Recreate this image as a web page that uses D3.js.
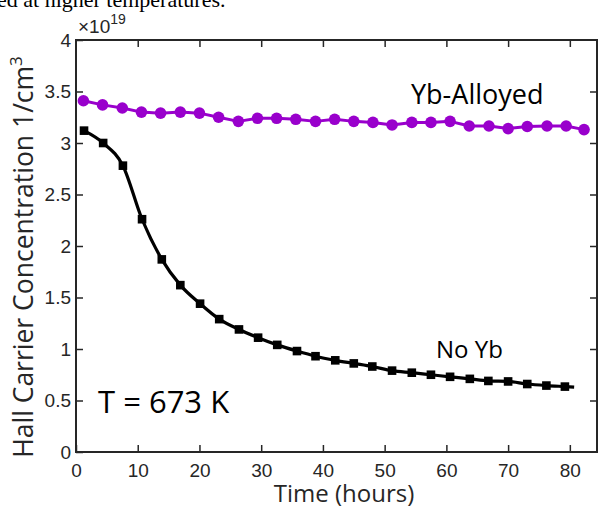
<!DOCTYPE html>
<html>
<head>
<meta charset="utf-8">
<script src="https://cdn.jsdelivr.net/npm/d3@7"></script>
<style>
  body { margin: 0; background: #fff; }
  svg { display: block; }
</style>
</head>
<body>
<div id="chart"></div>
<script>
// Hall carrier concentration vs time at T = 673 K (values in units of 1e19 cm^-3)
var noYbTime = [1.3, 4.4, 7.6, 10.7, 13.9, 16.9, 20.1, 23.2, 26.4, 29.5, 32.6, 35.8, 38.8,
  42.0, 45.0, 48.0, 51.2, 54.4, 57.5, 60.6, 63.8, 66.8, 70.0, 73.1, 76.2, 79.2];
var noYbConc = [3.12, 3.00, 2.78, 2.26, 1.87, 1.62, 1.44, 1.29, 1.19, 1.11, 1.04, 0.98, 0.93,
  0.89, 0.86, 0.83, 0.79, 0.77, 0.75, 0.73, 0.71, 0.69, 0.685, 0.66, 0.645, 0.635];
// end of the fitted curve, a little past the last sample
var noYbFitEnd = [80.7, 0.63];

var ybTime = [1.2, 4.3, 7.5, 10.6, 13.7, 16.9, 20.0, 23.1, 26.3, 29.4, 32.5, 35.6, 38.8, 41.9,
  45.0, 48.1, 51.2, 54.4, 57.5, 60.6, 63.7, 66.9, 70.0, 73.1, 76.3, 79.4, 82.3];
var ybConc = [3.41, 3.37, 3.34, 3.30, 3.29, 3.30, 3.29, 3.25, 3.21, 3.24, 3.24, 3.23, 3.21, 3.23,
  3.21, 3.20, 3.175, 3.20, 3.20, 3.21, 3.165, 3.165, 3.14, 3.16, 3.165, 3.165, 3.13];

var xTicks = [0, 10, 20, 30, 40, 50, 60, 70, 80];
var yTicks = [0, 0.5, 1, 1.5, 2, 2.5, 3, 3.5, 4];

var W = 600, H = 506;
var margins = { top: 40, right: 3, bottom: 54, left: 76 };
var width = W - margins.left - margins.right;
var height = H - margins.top - margins.bottom;
var axisColor = '#262626';
var purple = '#9900cc';

var svg = d3.select('#chart').append('svg')
  .attr('width', W)
  .attr('height', H);

// bit of the caption above the figure, cut off by the crop
svg.append('text')
  .attr('x', -3)
  .attr('y', 7)
  .attr('font-family', 'Liberation Serif, serif')
  .attr('font-size', 22)
  .attr('fill', '#000')
  .text('ed at higher temperatures.');

var g = svg.append('g')
  .attr('transform', 'translate(' + margins.left + ',' + margins.top + ')');

var x = d3.scaleLinear().domain([0, 84.4]).range([0, width]);
var y = d3.scaleLinear().domain([0, 4]).range([height, 0]);

function styleAxis(sel) {
  sel.select('.domain').remove();
  sel.selectAll('line').attr('stroke', axisColor).attr('stroke-width', 1.5);
  sel.selectAll('text')
    .attr('fill', axisColor)
    .attr('font-family', 'Liberation Sans, Arial, sans-serif')
    .attr('font-size', 19);
}

g.append('g')
  .attr('transform', 'translate(0,' + height + ')')
  .call(d3.axisBottom(x).tickValues(xTicks).tickSize(-7).tickPadding(12).tickSizeOuter(0))
  .call(styleAxis);

g.append('g')
  .call(d3.axisTop(x).tickValues(xTicks.slice(1)).tickSize(-7).tickFormat('').tickSizeOuter(0))
  .call(styleAxis);

g.append('g')
  .call(d3.axisLeft(y).tickValues(yTicks).tickSize(-7).tickPadding(5).tickSizeOuter(0)
    .tickFormat(d3.format('')))
  .call(styleAxis);

g.append('g')
  .attr('transform', 'translate(' + width + ',0)')
  .call(d3.axisRight(y).tickValues(yTicks.slice(1, -1)).tickSize(-7).tickFormat('').tickSizeOuter(0))
  .call(styleAxis);

// box
g.append('rect')
  .attr('width', width)
  .attr('height', height)
  .attr('fill', 'none')
  .attr('stroke', axisColor)
  .attr('stroke-width', 2);

// exponent label
var expo = svg.append('text')
  .attr('x', margins.left + 2)
  .attr('y', 33)
  .attr('fill', axisColor)
  .attr('font-family', 'Liberation Sans, Arial, sans-serif')
  .attr('font-size', 19);
expo.append('tspan').text('\u00d710');
expo.append('tspan').attr('font-size', 14).attr('dy', -9).text('19');

// data
var noYb = noYbTime.map(function (t, i) { return [t, noYbConc[i]]; });
var yb = ybTime.map(function (t, i) { return [t, ybConc[i]]; });

var smooth = d3.line()
  .x(function (d) { return x(d[0]); })
  .y(function (d) { return y(d[1]); })
  .curve(d3.curveMonotoneX);

var straight = d3.line()
  .x(function (d) { return x(d[0]); })
  .y(function (d) { return y(d[1]); });

g.append('path')
  .datum(yb)
  .attr('d', straight)
  .attr('fill', 'none')
  .attr('stroke', purple)
  .attr('stroke-width', 3)
  .attr('stroke-linejoin', 'round');

g.selectAll('.ybpt')
  .data(yb)
  .enter().append('circle')
  .attr('class', 'ybpt')
  .attr('cx', function (d) { return x(d[0]); })
  .attr('cy', function (d) { return y(d[1]); })
  .attr('r', 5.8)
  .attr('fill', purple);

g.append('path')
  .datum(noYb.concat([noYbFitEnd]))
  .attr('d', smooth)
  .attr('fill', 'none')
  .attr('stroke', '#000')
  .attr('stroke-width', 3.2)
  .attr('stroke-linejoin', 'round');

var sq = 8.6;
g.selectAll('.nopt')
  .data(noYb)
  .enter().append('rect')
  .attr('class', 'nopt')
  .attr('x', function (d) { return x(d[0]) - sq / 2; })
  .attr('y', function (d) { return y(d[1]) - sq / 2; })
  .attr('width', sq)
  .attr('height', sq)
  .attr('fill', '#000');

// annotations
var sans = 'Open Sans, sans-serif';
svg.append('text')
  .attr('x', 411).attr('y', 104)
  .attr('font-family', sans).attr('font-size', 27).attr('fill', '#000')
  .text('Yb-Alloyed');

svg.append('text')
  .attr('x', 436).attr('y', 358)
  .attr('font-family', sans).attr('font-size', 24).attr('fill', '#000')
  .text('No Yb');

svg.append('text')
  .attr('x', 98).attr('y', 413)
  .attr('font-family', sans).attr('font-size', 31).attr('fill', '#000')
  .text('T = 673 K');

// axis titles
svg.append('text')
  .attr('x', 344)
  .attr('y', 502)
  .attr('text-anchor', 'middle')
  .attr('font-family', sans).attr('font-size', 24).attr('fill', axisColor)
  .text('Time (hours)');

var ylab = svg.append('text')
  .attr('transform', 'translate(33,257) rotate(-90)')
  .attr('text-anchor', 'middle')
  .attr('font-family', sans).attr('font-size', 26.5).attr('fill', axisColor);
ylab.append('tspan').text('Hall Carrier Concentration 1/cm');
ylab.append('tspan').attr('font-size', 17).attr('dy', -11).text('3');
</script>
</body>
</html>
